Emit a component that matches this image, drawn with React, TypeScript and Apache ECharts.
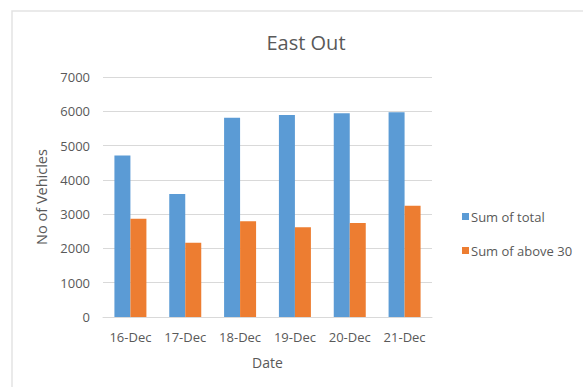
import React, { useEffect, useRef } from "react";
import * as echarts from "echarts";

const dates = ["16-Dec", "17-Dec", "18-Dec", "19-Dec", "20-Dec", "21-Dec"];
const sumOfTotal = [4710, 3590, 5810, 5890, 5940, 5975];
const sumOfAbove30 = [2865, 2165, 2790, 2615, 2740, 3245];
const seriesNames = ["Sum of total", "Sum of above 30"];

const FONT = "'Open Sans', sans-serif";
const TEXT = "#595959";

export default function App() {
  const ref = useRef<HTMLDivElement>(null);

  useEffect(() => {
    if (!ref.current) return;
    const chart = echarts.init(ref.current, null, { renderer: "svg" });
    chart.setOption({
      animation: false,
      backgroundColor: "#ffffff",
      textStyle: { fontFamily: FONT },
      title: {
        text: "East Out",
        left: 301,
        top: 27,
        textAlign: "center",
        textStyle: { fontFamily: FONT, fontSize: 20, fontWeight: "normal", color: TEXT },
      },
      graphic: [
        {
          type: "rect",
          shape: { x: 12, y: 11, width: 620, height: 420 },
          style: { fill: "none", stroke: "#e3e3e3", lineWidth: 1.5 },
          silent: true,
          z: -1,
        },
      ],
      legend: {
        orient: "vertical",
        left: 457,
        top: 205,
        itemWidth: 7,
        itemHeight: 7,
        itemGap: 21,
        icon: "rect",
        data: seriesNames,
        textStyle: { fontFamily: FONT, fontSize: 13, color: TEXT, padding: [0, 0, 0, -3] },
      },
      grid: { left: 103, right: 151, top: 77, bottom: 70, containLabel: false },
      xAxis: {
        type: "category",
        data: dates,
        name: "Date",
        nameLocation: "middle",
        nameGap: 38,
        nameTextStyle: { fontFamily: FONT, fontSize: 14, color: TEXT },
        axisLine: { lineStyle: { color: "#d9d9d9", width: 1 } },
        axisTick: { show: false },
        axisLabel: { fontFamily: FONT, fontSize: 13, color: TEXT, margin: 13 },
      },
      yAxis: {
        type: "value",
        min: 0,
        max: 7000,
        interval: 1000,
        name: "No of Vehicles",
        nameLocation: "middle",
        nameGap: 44,
        nameTextStyle: { fontFamily: FONT, fontSize: 14.5, color: TEXT },
        axisLine: { show: false },
        axisTick: { show: false },
        axisLabel: {
          fontFamily: FONT,
          fontSize: 13,
          color: TEXT,
          margin: 13,
          formatter: (v: number) => String(v),
        },
        splitLine: { lineStyle: { color: "#d9d9d9", width: 1 } },
      },
      series: [
        {
          name: seriesNames[0],
          type: "bar",
          data: sumOfTotal,
          barWidth: 16,
          barGap: "0%",
          itemStyle: { color: "#5B9BD5" },
        },
        {
          name: seriesNames[1],
          type: "bar",
          data: sumOfAbove30,
          barWidth: 16,
          barGap: "0%",
          itemStyle: { color: "#ED7D31" },
        },
      ],
    });
    return () => chart.dispose();
  }, []);

  return (
    <div
      ref={ref}
      style={{ position: "fixed", left: 0, top: 0, width: 583, height: 387 }}
    />
  );
}
